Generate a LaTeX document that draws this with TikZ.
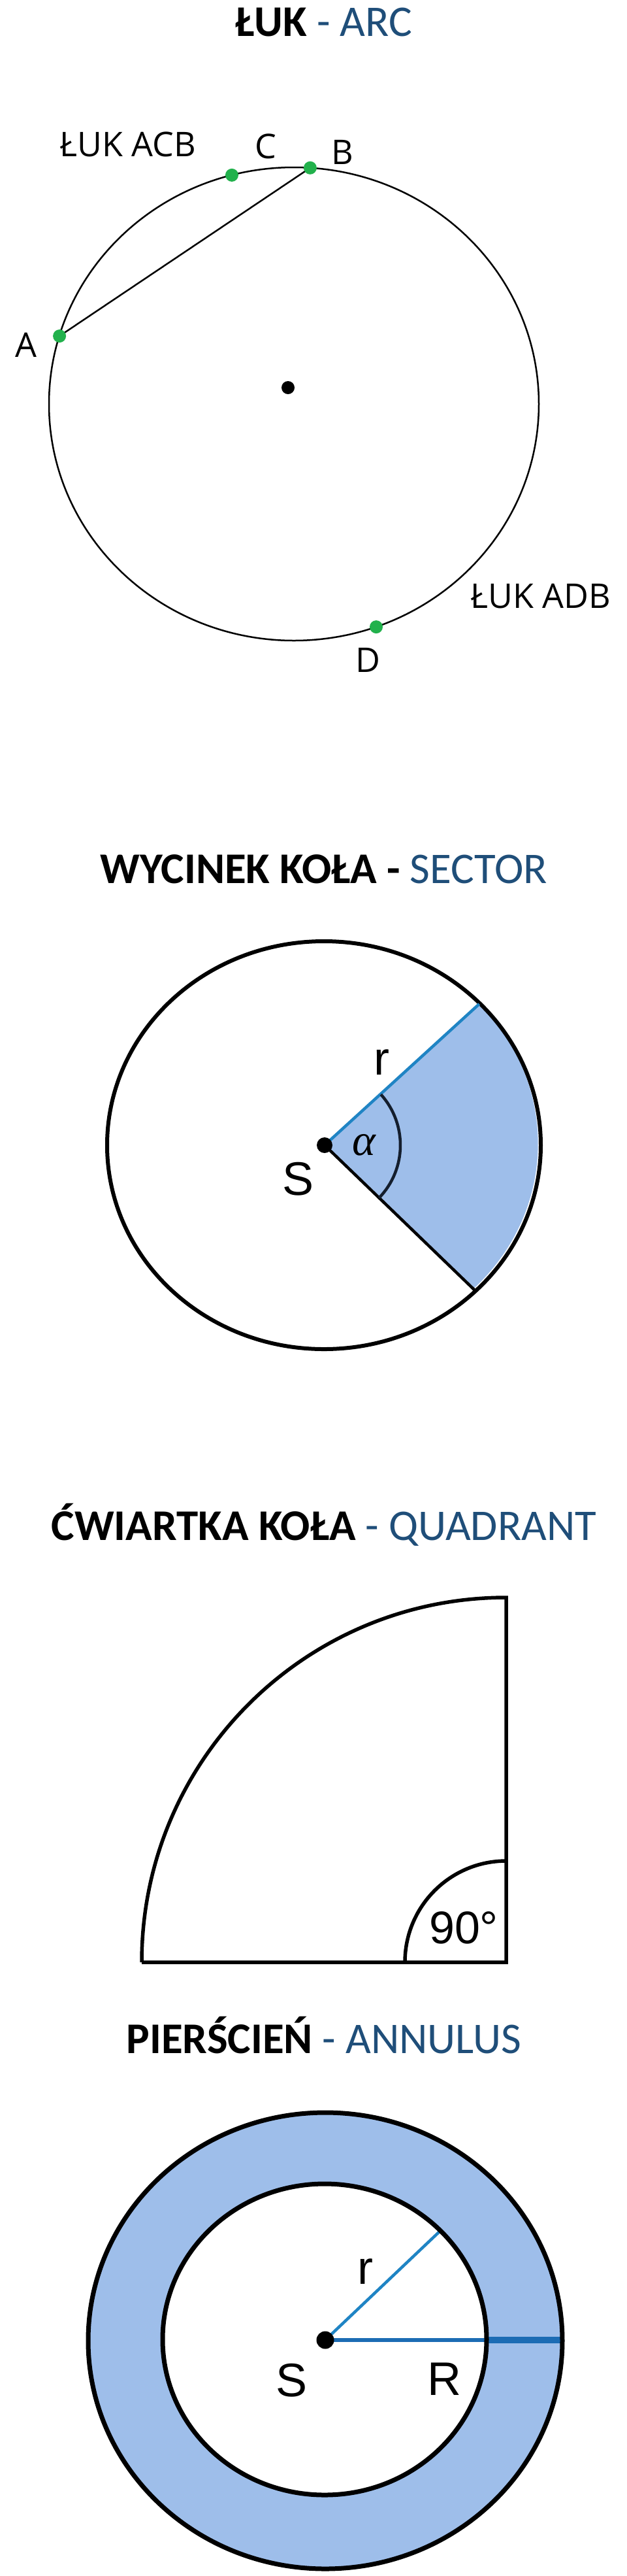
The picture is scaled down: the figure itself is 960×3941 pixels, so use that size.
\documentclass[tikz,border=0pt]{standalone}
\usepackage{fontspec}
\setmainfont{Carlito}
\newfontfamily\osfont{Open Sans}
\newfontfamily\arfont{Liberation Sans}
\newfontfamily\serfont{Liberation Serif}
\usetikzlibrary{calc}
\definecolor{titleblue}{RGB}{31,78,121}
\definecolor{ptgreen}{RGB}{34,177,76}
\definecolor{shadeblue}{RGB}{158,190,234}
\definecolor{rblue}{RGB}{31,132,196}
\definecolor{Rblue}{RGB}{28,108,180}
\definecolor{anglecol}{RGB}{20,30,45}
\begin{document}
\begin{tikzpicture}[x=1pt,y=-1pt,
  titletext/.style={font=\fontsize{67}{74}\selectfont, inner sep=0pt, anchor=base},
  arclbl/.style={font=\osfont\fontsize{52}{60}\selectfont, inner sep=0pt},
  geolbl/.style={font=\arfont\fontsize{72}{80}\selectfont, inner sep=0pt},
  gdot/.style={circle, fill=ptgreen, inner sep=0pt, minimum size=20pt},
  cdot/.style={circle, fill=black, inner sep=0pt, minimum size=#1},
  cdot/.default=22pt
]
\fill[white] (0,0) rectangle (960,3941);
\useasboundingbox (0,0) rectangle (960,3941);

% ================= ARC =================
\node[titletext] (t1) at (496,55) {\textbf{ŁUK} \textcolor{titleblue}{- ARC}};
\coordinate (O1) at (450,618);
\draw[line width=2.5pt] (O1) ellipse[x radius=375pt, y radius=362pt];
\coordinate (A) at (91.1,514.1);
\coordinate (B) at (474.9,256.8);
\coordinate (C) at (355,267.9);
\coordinate (D) at (576,959.1);
\draw[line width=2.5pt] (A) -- (B);
\node[gdot] (pA) at (A) {};
\node[gdot] (pB) at (B) {};
\node[gdot] (pC) at (C) {};
\node[gdot] (pD) at (D) {};
\node[cdot=20pt] (ctr1) at (441,593) {};
\node[arclbl] (lA) at (40,528) {A};
\node[arclbl] (lB) at (524,233) {B};
\node[arclbl] (lC) at (407,224) {C};
\node[arclbl] (lD) at (563,1010) {D};
\node[arclbl] (lacb) at (196,221) {ŁUK ACB};
\node[arclbl] (ladb) at (828,912) {ŁUK ADB};

% ================= SECTOR =================
\node[titletext] (t2) at (496,1351) {\textbf{WYCINEK KOŁA -} \textcolor{titleblue}{SECTOR}};
\coordinate (O2) at (496,1752);
\coordinate (S2) at (497,1752);
\coordinate (P1) at (733.7,1536);
\coordinate (P2) at (727,1974);
\fill[shadeblue] (S2) -- (P1) arc[start angle=43.2, end angle=-45.5, x radius=332pt, y radius=312pt] -- cycle;
\draw[line width=6pt] (O2) ellipse[x radius=332pt, y radius=312pt];
\draw[rblue, line width=4.5pt] (S2) -- (P1);
\draw[line width=4.5pt] (S2) -- (P2);
\draw[anglecol, line width=4.5pt] ($(S2)+(42:116pt)$) arc[start angle=42, end angle=-44, radius=116pt];
\node[cdot=24pt] (sdot2) at (S2) {};
\node[geolbl] (lr2) at (584,1625) {r};
\node[font=\serfont\itshape\fontsize{68}{72}\selectfont, inner sep=0pt] (lal) at (557,1752) {α};
\node[geolbl] (lS2) at (457,1804) {S};

% ================= QUADRANT =================
\node[titletext] (t3) at (496,2356) {\textbf{ĆWIARTKA KOŁA} \textcolor{titleblue}{- QUADRANT}};
\coordinate (Q) at (775,3002);
\coordinate (Qt) at (775,2444);
\coordinate (Ql) at (217,3002);
\draw[line width=5.5pt, line join=miter] (Ql) -- (Q) -- (Qt) arc[start angle=90, end angle=180, radius=558pt];
\draw[line width=5.5pt] ($(Q)+(-155pt,0pt)$) arc[start angle=180, end angle=90, radius=155pt];
\node[font=\arfont\fontsize{70}{76}\selectfont, inner sep=0pt] (l90) at (710,2949) {90°};

% ================= ANNULUS =================
\node[titletext] (t4) at (496,3141) {\textbf{PIERŚCIEŃ} \textcolor{titleblue}{- ANNULUS}};
\coordinate (O4) at (498,3581);
\coordinate (O4i) at (497,3579);
\coordinate (S4) at (498,3580);
\coordinate (Rr) at (674,3413);
\coordinate (Ri) at (745,3580);
\coordinate (Ro) at (861,3580);
\fill[shadeblue, even odd rule] (O4) ellipse[x radius=363pt, y radius=349pt] (O4i) ellipse[x radius=248pt, y radius=238pt];
\draw[rblue, line width=4.5pt] (S4) -- (Rr);
\draw[Rblue, line width=6pt] (S4) -- (Ri);
\draw[Rblue, line width=10pt] (Ri) -- (Ro);
\draw[line width=7pt] (O4) ellipse[x radius=363pt, y radius=349pt];
\draw[line width=7pt] (O4i) ellipse[x radius=248pt, y radius=238pt];
\node[cdot=27pt] (sdot4) at (S4) {};
\node[geolbl] (lr4) at (559,3475) {r};
\node[geolbl] (lS4) at (447,3642) {S};
\node[geolbl] (lR4) at (680,3640) {R};
\end{tikzpicture}
\end{document}
